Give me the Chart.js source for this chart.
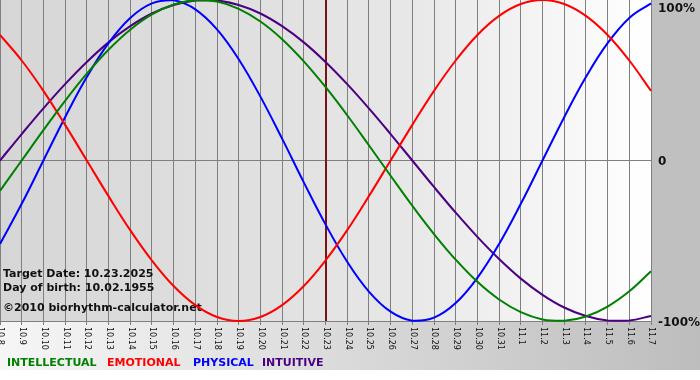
<!DOCTYPE html>
<html><head><meta charset="utf-8">
<script src="https://cdn.jsdelivr.net/npm/chart.js@4.4.1/dist/chart.umd.min.js"></script>
<style>html,body{margin:0;padding:0;background:#fff;overflow:hidden}canvas{display:block}</style>
</head><body>
<canvas id="c" width="700" height="380"></canvas>
<script>
const days = ['10.8','10.9','10.10','10.11','10.12','10.13','10.14','10.15','10.16','10.17','10.18','10.19','10.20','10.21','10.22','10.23','10.24','10.25','10.26','10.27','10.28','10.29','10.30','10.31','11.1','11.2','11.3','11.4','11.5','11.6','11.7'];
const intellectual = [-18.9, 0, 18.9, 37.2, 54.1, 69.0, 81.5, 91.0, 97.2, 99.9, 99.0, 94.5, 86.6, 75.6, 61.8, 45.8, 28.2, 9.5, -9.5, -28.2, -45.8, -61.8, -75.6, -86.6, -94.5, -99.0, -99.9, -97.2, -91.0, -81.5, -69.0];
const emotional = [78.2, 62.3, 43.4, 22.2, 0, -22.2, -43.4, -62.3, -78.2, -90.1, -97.5, -100, -97.5, -90.1, -78.2, -62.3, -43.4, -22.2, 0, 22.2, 43.4, 62.3, 78.2, 90.1, 97.5, 100, 97.5, 90.1, 78.2, 62.3, 43.4];
const physical = [-52.0, -27.0, 0, 27.0, 52.0, 73.1, 88.8, 97.9, 99.8, 94.2, 81.7, 63.1, 39.8, 13.6, -13.6, -39.8, -63.1, -81.7, -94.2, -99.8, -97.9, -88.8, -73.1, -52.0, -27.0, 0, 27.0, 52.0, 73.1, 88.8, 97.9];
const intuitive = [0, 16.5, 32.5, 47.6, 61.4, 73.6, 83.7, 91.6, 96.9, 99.7, 99.7, 96.9, 91.6, 83.7, 73.6, 61.4, 47.6, 32.5, 16.5, 0, -16.5, -32.5, -47.6, -61.4, -73.6, -83.7, -91.6, -96.9, -99.7, -99.7, -96.9];
const yTickValues = [100, 0, -100];
const yTickLabels = ['100%', '0', '-100%'];
const targetDay = '10.23';
const infoLines = ['Target Date: 10.23.2025', 'Day of birth: 10.02.1955', '\u00A92010 biorhythm-calculator.net'];
const seriesNames = ['INTELLECTUAL', 'EMOTIONAL', 'PHYSICAL', 'INTUITIVE'];
const seriesColors = ['#008000', '#ff0000', '#0000ff', '#4b0082'];

const deco = {
  id: 'deco',
  beforeDraw(chart) {
    const ctx = chart.ctx, a = chart.chartArea, W = chart.width, H = chart.height;
    ctx.save();
    ctx.fillStyle = '#ffffff';
    ctx.fillRect(0, 0, W, H);
    // bottom panel
    let g = ctx.createLinearGradient(0, 0, W, 0);
    g.addColorStop(0, '#f6f6f6');
    g.addColorStop(1, '#bdbdbd');
    ctx.fillStyle = g;
    ctx.fillRect(0, a.bottom, W, 370 - a.bottom);
    // right panel
    ctx.fillStyle = '#c0c0c0';
    ctx.fillRect(a.right, 0, W - a.right, a.bottom);
    // plot area
    g = ctx.createLinearGradient(a.left, 0, a.right, 0);
    g.addColorStop(0, '#d6d6d6');
    g.addColorStop(0.6, '#e6e6e6');
    g.addColorStop(1, '#ffffff');
    ctx.fillStyle = g;
    ctx.fillRect(a.left, a.top, a.width, a.height);
    ctx.restore();
  },
  beforeDatasetsDraw(chart) {
    const ctx = chart.ctx, a = chart.chartArea;
    const xs = chart.scales.x;
    ctx.save();
    const tx = Math.round(xs.getPixelForValue(days.indexOf(targetDay)));
    ctx.strokeStyle = '#7a1414';
    ctx.lineWidth = 2;
    ctx.beginPath();
    ctx.moveTo(tx, a.top);
    ctx.lineTo(tx, a.bottom);
    ctx.stroke();
    ctx.fillStyle = '#111';
    ctx.font = 'bold 11px "DejaVu Sans"';
    ctx.textAlign = 'left';
    ctx.textBaseline = 'alphabetic';
    const ys = [276.5, 291, 310.5];
    infoLines.forEach((t, i) => ctx.fillText(t, 3, ys[i]));
    ctx.restore();
  },
  afterDraw(chart) {
    const ctx = chart.ctx, a = chart.chartArea;
    const xs = chart.scales.x, ysc = chart.scales.y;
    ctx.save();
    // x labels rotated (top-to-bottom)
    ctx.fillStyle = '#111';
    ctx.font = '8px "DejaVu Sans"';
    ctx.textAlign = 'left';
    ctx.textBaseline = 'middle';
    days.forEach((d, i) => {
      const x = xs.getPixelForValue(i);
      ctx.save();
      ctx.translate(x + 0.5, a.bottom + 6);
      ctx.rotate(Math.PI / 2);
      ctx.fillText(d, 0, 0);
      ctx.restore();
    });
    // y labels
    ctx.font = 'bold 12px "DejaVu Sans"';
    ctx.textBaseline = 'middle';
    yTickValues.forEach((v, i) => {
      let y = ysc.getPixelForValue(v);
      if (y < 7) y = 7;
      ctx.fillText(yTickLabels[i], a.right + 7, y + 1.5);
    });
    // legend
    ctx.font = 'bold 11px "DejaVu Sans"';
    ctx.textBaseline = 'alphabetic';
    const lx = [7, 107, 193, 262];
    seriesNames.forEach((n, i) => {
      ctx.fillStyle = seriesColors[i];
      ctx.fillText(n, lx[i], 366);
    });
    ctx.restore();
  }
};

new Chart(document.getElementById('c'), {
  type: 'line',
  data: {
    labels: days,
    datasets: [
      { label: seriesNames[0], data: intellectual, borderColor: seriesColors[0] },
      { label: seriesNames[1], data: emotional, borderColor: seriesColors[1] },
      { label: seriesNames[2], data: physical, borderColor: seriesColors[2] },
      { label: seriesNames[3], data: intuitive, borderColor: seriesColors[3] }
    ]
  },
  options: {
    responsive: false,
    animation: false,
    devicePixelRatio: 1,
    layout: { padding: 0 },
    plugins: { legend: { display: false }, tooltip: { enabled: false } },
    elements: {
      point: { radius: 0 },
      line: { tension: 0.4, borderWidth: 2, fill: false }
    },
    datasets: { line: { clip: false } },
    scales: {
      x: {
        type: 'category',
        offset: false,
        grid: { color: '#7f7f7f', lineWidth: 1, drawTicks: true, tickLength: 4, tickColor: '#7f7f7f' },
        border: { color: '#7f7f7f' },
        ticks: { display: false, autoSkip: false },
        afterFit(s) { s.height = 59; }
      },
      y: {
        position: 'right',
        min: -100,
        max: 100,
        ticks: { display: false, stepSize: 100 },
        grid: { color: c => (c.tick && c.tick.value === 0) ? '#7f7f7f' : 'rgba(0,0,0,0)', drawTicks: false },
        border: { display: false },
        afterFit(s) { s.width = 49; }
      }
    }
  },
  plugins: [deco]
});
</script>
</body></html>
